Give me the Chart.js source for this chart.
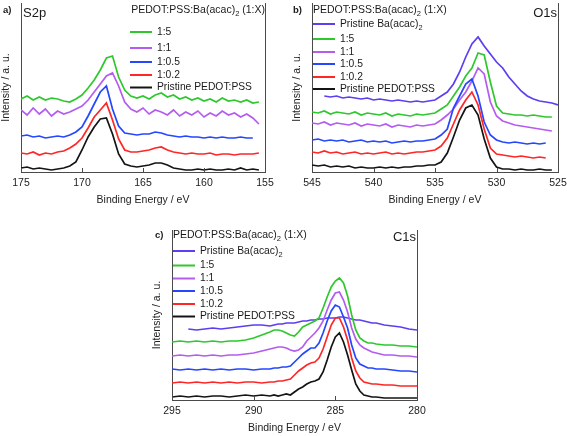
<!DOCTYPE html>
<html>
<head>
<meta charset="utf-8">
<script src="https://cdn.jsdelivr.net/npm/chart.js@4.4.1/dist/chart.umd.min.js"></script>
<style>
  body { margin: 0; background: #fff; }
  canvas { position: absolute; }
</style>
</head>
<body>
<canvas id="grafA" width="280" height="210" style="left:0;top:0"></canvas>
<canvas id="grafB" width="287" height="210" style="left:280px;top:0"></canvas>
<canvas id="grafC" width="290" height="226" style="left:140px;top:210px"></canvas>
<script>
// etiquetas de las series (leyendas)
const nombres = ['Pristine PEDOT:PSS', '1:0.2', '1:0.5', '1:1', '1:5', 'Pristine Ba(acac)2'];
const ticksA = [175, 170, 165, 160, 155];
const ticksB = [545, 540, 535, 530, 525];
const ticksC = [295, 290, 285, 280];

// a) S2p  (energia de enlace, eV)
const energiaA = [175,174.5,174,173.5,173,172.5,172,171.5,171,170.5,170,169.5,169,168.5,168,167.5,167,166.5,166,165.5,165,164.5,164,163.5,163,162.5,162,161.5,161,160.5,160,159.5,159,158.5,158,157.5,157,156.5,156,155.5];
const negroA = [4,5,3,4,3,2,3,4,6,10, 22,35,45,53,54,38,18,8,6,5, 6,7,9,9,7,4,3,2,2,3, 2,3,2,2,3,2,4,2,3,2];
const rojoA  = [19,18,20,17,19,18,20,21,24,28, 34,44,55,62,69,52,33,22,20,20, 21,22,24,25,22,20,19,18,19,18, 18,19,17,18,18,17,18,18,18,19];
const azulA  = [36,37,35,36,34,35,36,35,37,40, 45,56,68,80,86,63,46,39,38,37, 38,38,40,39,37,36,35,36,35,35, 34,35,34,35,34,34,35,34,34,null];
const lilaA  = [62,57,64,58,63,56,61,58,60,63, 66,72,80,88,96,99,86,70,63,60, 64,58,62,60,57,62,56,60,57,61, 55,59,56,61,57,59,55,58,54,48];
const verdeA = [73,76,72,75,72,74,73,71,70,73, 77,84,92,102,114,116,95,82,76,74, 76,73,77,79,75,77,73,75,72,74, 71,73,70,74,71,72,70,72,69,70];

// b) O1s
const energiaB = [545,544.5,544,543.5,543,542.5,542,541.5,541,540.5,540,539.5,539,538.5,538,537.5,537,536.5,536,535.5,535,534.5,534,533.5,533,532.5,532,531.5,531,530.5,530,529.5,529,528.5,528,527.5,527,526.5,526,525.5,525];
const negroB  = [7,6,7,5,6,5,6,4,5,4, 4,5,4,5,4,5,5,6,6,7, 7,10,19,35,52,64,67,57,33,14, 5,3,3,2,3,2,2,3,2,2,null];
const rojoB   = [20,19,21,19,20,18,19,20,18,19, 18,19,20,18,19,18,19,20,20,21, 22,26,34,48,62,72,80,67,43,24, 18,17,16,15,16,15,14,15,14,null,null];
const azulB   = [32,33,31,32,31,32,30,31,32,30, 31,30,31,29,30,31,30,31,31,32, 33,37,43,64,76,88,93,76,50,37, 32,30,29,30,29,28,29,28,29,null,null];
const lilaB   = [49,48,50,47,49,48,47,49,46,48, 47,46,48,45,47,46,45,47,46,47, 48,52,57,63,72,80,91,104,98,70, 56,51,49,47,46,45,44,43,42,41,null];
const verdeB  = [60,59,61,58,60,59,58,60,57,59, 58,57,59,56,58,57,56,58,57,58, 59,63,67,76,85,96,104,119,117,90, 66,59,58,57,57,56,57,56,55,55,null];
const indigoB = [null,null,76,75,76,74,75,74,73,74, 72,73,72,71,72,71,70,71,70,71, 72,76,80,88,100,115,128,135,126,118, 110,104,95,88,81,76,73,71,70,69,67];

// c) C1s
const energiaC = [295,294.5,294,293.5,293,292.5,292,291.5,291,290.5,290,289.5,289,288.75,288.5,288.25,288,287.75,287.5,287.25,287,286.75,286.5,286.25,286,285.75,285.5,285.25,285,284.75,284.5,284.25,284,283.75,283.5,283.25,283,282.75,282.5,282,281.5,281,280.5,280];
const negroC  = [3,4,3,4,3,4,4,3,4,5,4,5,4, 5,4,5,6,5,8,11,13,16,18,19,21,28,40,53,63,67,58,45,30,16,9,5,4,3,3, 2,2,2,2,2];
const rojoC   = [17,18,17,18,17,18,17,18,17,18,18,17,18, 18,19,19,20,21,25,29,32,35,37,38,42,51,63,75,82,82,73,60,42,29,22,18,17,16,16, 15,15,14,14,14];
const azulC   = [31,30,31,30,31,30,31,30,31,31,30,31,31, 32,32,33,33,34,38,42,46,49,52,52,57,67,79,89,95,93,83,72,55,42,36,34,32,32,31, 31,30,29,29,28];
const lilaC   = [44,45,44,45,44,45,44,45,45,46,47,49,51, 52,53,53,52,50,49,50,53,59,63,67,72,79,90,100,107,108,100,88,72,61,55,52,50,48,47, 45,45,44,44,43];
const verdeC  = [58,59,58,59,58,59,58,59,59,60,62,65,68, 70,70,69,67,65,64,68,73,75,77,79,82,92,103,113,119,122,117,104,85,70,62,59,57,57,56, 55,55,54,54,53];
const indigoC = [null,null,71,70,71,72,71,72,73,74,75,75,74, 75,76,76,77,77,77,78,79,79,80,80,81,81,82,82,82,83,83,82,81,80,80,79,78,77,77, 75,74,73,71,70];

const colores = ['#141414', '#ff2626', '#2447ff', '#b45cf0', '#2ec82e', '#5b3ff0'];
const FUENTE = '"Liberation Sans", Arial, sans-serif';

function textoConSub(ctx, txt, x, y, size, align) {
    const k = txt.indexOf('(acac)2');
    const partes = k < 0 ? [[txt, false]]
        : [[txt.slice(0, k + 6), false], ['2', true], [txt.slice(k + 7), false]];
    let ancho = 0;
    partes.forEach(([t, sub]) => {
        ctx.font = (sub ? size * 0.72 : size) + 'px ' + FUENTE;
        ancho += ctx.measureText(t).width;
    });
    let cx = align === 'right' ? x - ancho : x;
    ctx.textAlign = 'left';
    ctx.textBaseline = 'middle';
    partes.forEach(([t, sub]) => {
        ctx.font = (sub ? size * 0.72 : size) + 'px ' + FUENTE;
        ctx.fillText(t, cx, sub ? y + size * 0.38 : y);
        cx += ctx.measureText(t).width;
    });
}

function adornos(p) {
    return {
        id: 'adornos',
        afterDraw(chart) {
            const ctx = chart.ctx, area = chart.chartArea, ex = chart.scales.x;
            ctx.save();
            // borde derecho y marcas hacia dentro
            ctx.strokeStyle = '#4a4a4a';
            ctx.lineWidth = 1;
            ctx.beginPath();
            ctx.moveTo(area.right + 0.5, area.top);
            ctx.lineTo(area.right + 0.5, area.bottom);
            ex.ticks.forEach(t => {
                const px = Math.round(ex.getPixelForValue(t.value)) + 0.5;
                ctx.moveTo(px, area.bottom);
                ctx.lineTo(px, area.bottom - 4);
            });
            ctx.stroke();

            ctx.fillStyle = '#1a1a1a';
            ctx.textBaseline = 'middle';
            ctx.textAlign = 'left';
            ctx.font = 'bold 9.5px ' + FUENTE;
            ctx.fillText(p.letra, p.letraX, p.letraY);
            ctx.font = '13px ' + FUENTE;
            ctx.textAlign = p.nivelAlign;
            ctx.fillText(p.nivel, p.nivelX, p.nivelY);
            textoConSub(ctx, 'PEDOT:PSS:Ba(acac)2 (1:X)', p.tituloX, p.tituloY, 10.5, p.tituloAlign);

            p.leyenda.forEach(fila => {
                const ds = chart.data.datasets[fila.i];
                ctx.strokeStyle = ds.borderColor;
                ctx.lineWidth = 2;
                ctx.beginPath();
                ctx.moveTo(p.leyX0, fila.y);
                ctx.lineTo(p.leyX1, fila.y);
                ctx.stroke();
                ctx.fillStyle = '#1a1a1a';
                textoConSub(ctx, ds.label, p.leyX1 + 5, fila.y, 10.3, 'left');
            });
            ctx.restore();
        }
    };
}

function panel(p) {
    new Chart(document.getElementById(p.id), {
        type: 'line',
        data: {
            datasets: p.series.map((valores, i) => ({
                label: nombres[i],
                data: p.energias.map((e, j) => ({ x: e, y: valores[j] })),
                borderColor: colores[i],
                borderWidth: 1.7,
                pointRadius: 0,
                fill: false,
                tension: 0
            }))
        },
        options: {
            responsive: false,
            animation: false,
            layout: { padding: p.padding },
            plugins: { legend: { display: false }, tooltip: { enabled: false } },
            scales: {
                x: {
                    type: 'linear',
                    reverse: true,
                    min: Math.min(...p.ticks),
                    max: Math.max(...p.ticks),
                    afterBuildTicks: s => { s.ticks = p.ticks.map(v => ({ value: v })); },
                    ticks: { padding: 5, color: '#222', font: { family: FUENTE, size: 10.5 }, maxRotation: 0 },
                    grid: { display: false, drawTicks: false },
                    border: { display: true, color: '#4a4a4a' },
                    title: {
                        display: true,
                        text: 'Binding Energy / eV',
                        color: '#222',
                        font: { family: FUENTE, size: 10.5 },
                        padding: { top: 0, bottom: p.padTitulo }
                    },
                    afterFit: s => { s.height = p.altoX; s.paddingLeft = 0; s.paddingRight = 0; }
                },
                y: {
                    min: 0,
                    max: p.ymax,
                    ticks: { display: false },
                    grid: { display: false, drawTicks: false },
                    border: { display: true, color: '#4a4a4a' },
                    title: {
                        display: true,
                        text: 'Intensity / a. u.',
                        color: '#222',
                        font: { family: FUENTE, size: 10.5 },
                        padding: 0
                    },
                    afterFit: s => { s.width = 21; }
                }
            }
        },
        plugins: [adornos(p)]
    });
}

panel({
    id: 'grafA', energias: energiaA, ticks: ticksA,
    series: [negroA, rojoA, azulA, lilaA, verdeA],
    padding: { left: 0, right: 15, top: 3, bottom: 0 }, altoX: 38, padTitulo: 4, ymax: 169,
    letra: 'a)', letraX: 3, letraY: 10,
    nivel: 'S2p', nivelX: 23, nivelY: 13, nivelAlign: 'left',
    tituloX: 265, tituloY: 10, tituloAlign: 'right',
    leyX0: 130, leyX1: 152,
    leyenda: [{ i: 4, y: 32 }, { i: 3, y: 48 }, { i: 2, y: 62 }, { i: 1, y: 75 }, { i: 0, y: 87.5 }]
});

panel({
    id: 'grafB', energias: energiaB, ticks: ticksB,
    series: [negroB, rojoB, azulB, lilaB, verdeB, indigoB],
    padding: { left: 11, right: 9, top: 3, bottom: 0 }, altoX: 38, padTitulo: 4, ymax: 169,
    letra: 'b)', letraX: 13, letraY: 10,
    nivel: 'O1s', nivelX: 277, nivelY: 13, nivelAlign: 'right',
    tituloX: 33, tituloY: 10, tituloAlign: 'left',
    leyX0: 33, leyX1: 55,
    leyenda: [{ i: 5, y: 24 }, { i: 4, y: 39 }, { i: 3, y: 52 }, { i: 2, y: 64 }, { i: 1, y: 77 }, { i: 0, y: 89 }]
});

panel({
    id: 'grafC', energias: energiaC, ticks: ticksC,
    series: [negroC, rojoC, azulC, lilaC, verdeC, indigoC],
    padding: { left: 11, right: 13, top: 20, bottom: 0 }, altoX: 36, padTitulo: 2, ymax: 170,
    letra: 'c)', letraX: 15, letraY: 25,
    nivel: 'C1s', nivelX: 276, nivelY: 27, nivelAlign: 'right',
    tituloX: 33, tituloY: 25, tituloAlign: 'left',
    leyX0: 33, leyX1: 55,
    leyenda: [{ i: 5, y: 41 }, { i: 4, y: 55.5 }, { i: 3, y: 68.5 }, { i: 2, y: 81 }, { i: 1, y: 94 }, { i: 0, y: 106.5 }]
});
</script>
</body>
</html>
